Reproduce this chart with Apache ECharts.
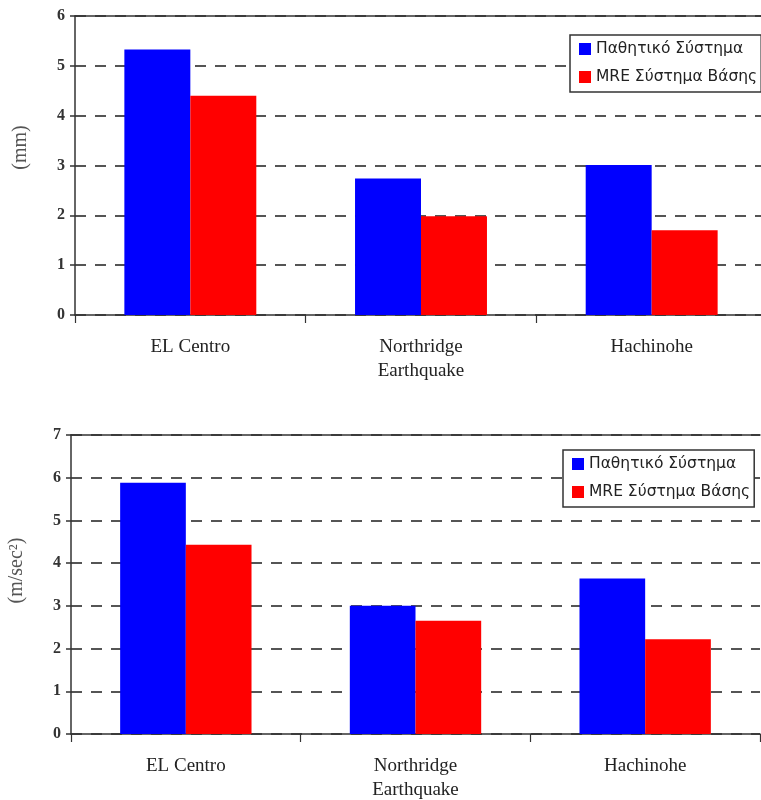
<!DOCTYPE html>
<html>
<head>
<meta charset="utf-8">
<script src="https://cdn.jsdelivr.net/npm/echarts@6/dist/echarts.min.js"></script>
<style>
  html, body { margin: 0; padding: 0; background: #fff; overflow: hidden; }
  /* the plot frame runs slightly past the right edge of the page */
  #chart { width: 800px; height: 800px; }
</style>
</head>
<body>
<div id="chart"></div>
<script>
// Earthquake records on the category axis
const categories = ['EL Centro', 'Northridge\nEarthquake', 'Hachinohe'];
// Series names (legend entries)
const seriesNames = ['Παθητικό Σύστημα', 'MRE Σύστημα Βάσης'];
// Peak displacement (mm)
const dispPassive = [5.33, 2.74, 3.01];
const dispMRE = [4.40, 1.98, 1.70];
// Peak acceleration (m/sec²)
const accPassive = [5.88, 3.00, 3.64];
const accMRE = [4.43, 2.65, 2.22];
// Value-axis ranges
const dispAxis = { min: 0, max: 6, interval: 1, name: '(mm)', shift: 36 };
const accAxis = { min: 0, max: 7, interval: 1, name: '(m/sec²)', shift: 28 };

const colors = ['#0000ff', '#ff0000'];
const serif = 'Liberation Serif';
const axisColor = '#333';

function valueAxis(gridIndex, spec) {
  return {
    type: 'value', gridIndex, min: spec.min, max: spec.max, interval: spec.interval,
    name: spec.name, nameLocation: 'middle', nameGap: 44, nameRotate: 90,
    nameTextStyle: { fontFamily: serif, fontSize: 20, color: '#555', padding: [0, 0, 0, spec.shift] },
    axisLine: { show: true, lineStyle: { color: axisColor, width: 1.5 } },
    axisTick: { show: true, length: 5, lineStyle: { color: axisColor, width: 1.5 } },
    axisLabel: { fontFamily: serif, fontSize: 16, fontWeight: 'bold', color: '#333', margin: 10 },
    splitLine: { show: true, lineStyle: { color: '#555', width: 2, type: [11, 9] } }
  };
}

function categoryAxis(gridIndex, margin) {
  return {
    type: 'category', gridIndex, data: categories,
    axisLine: { show: true, lineStyle: { color: axisColor, width: 1.5 } },
    axisTick: { show: true, length: 8, lineStyle: { color: axisColor, width: 1.2 } },
    axisLabel: { fontFamily: serif, fontSize: 19, lineHeight: 24, color: '#222', margin },
    splitLine: { show: false }
  };
}

// Solid frame line along the top of each plot area
function topFrame(gridIndex) {
  return {
    type: 'category', gridIndex, position: 'top', data: categories,
    axisLine: { show: true, lineStyle: { color: axisColor, width: 1.5 } },
    axisTick: { show: false }, axisLabel: { show: false }, splitLine: { show: false }
  };
}

function legendAt(left, top) {
  return {
    data: seriesNames, left, top, orient: 'vertical', icon: 'rect',
    itemWidth: 12, itemHeight: 12, itemGap: 12, selectedMode: false,
    padding: [6, 4, 7, 9],
    backgroundColor: '#fff', borderColor: '#333', borderWidth: 1.5,
    textStyle: { fontFamily: 'DejaVu Sans', fontSize: 15.5, color: '#222' }
  };
}

function bars(name, data, xAxisIndex, yAxisIndex, color) {
  return {
    type: 'bar', name, data, xAxisIndex, yAxisIndex,
    barWidth: '28.6%', barGap: '0%',
    itemStyle: { color }, emphasis: { disabled: true }, animation: false
  };
}

const chart = echarts.init(document.getElementById('chart'), null, { renderer: 'canvas' });
chart.setOption({
  backgroundColor: '#fff',
  animation: false,
  grid: [
    { left: 75, top: 16, width: 692, height: 299, outerBoundsMode: 'none' },
    { left: 71, top: 435, width: 689, height: 299, outerBoundsMode: 'none' }
  ],
  xAxis: [categoryAxis(0, 20), categoryAxis(1, 20), topFrame(0), topFrame(1)],
  yAxis: [valueAxis(0, dispAxis), valueAxis(1, accAxis)],
  legend: [legendAt(570, 35), legendAt(563, 450)],
  series: [
    bars(seriesNames[0], dispPassive, 0, 0, colors[0]),
    bars(seriesNames[1], dispMRE, 0, 0, colors[1]),
    bars(seriesNames[0], accPassive, 1, 1, colors[0]),
    bars(seriesNames[1], accMRE, 1, 1, colors[1])
  ]
});
</script>
</body>
</html>
